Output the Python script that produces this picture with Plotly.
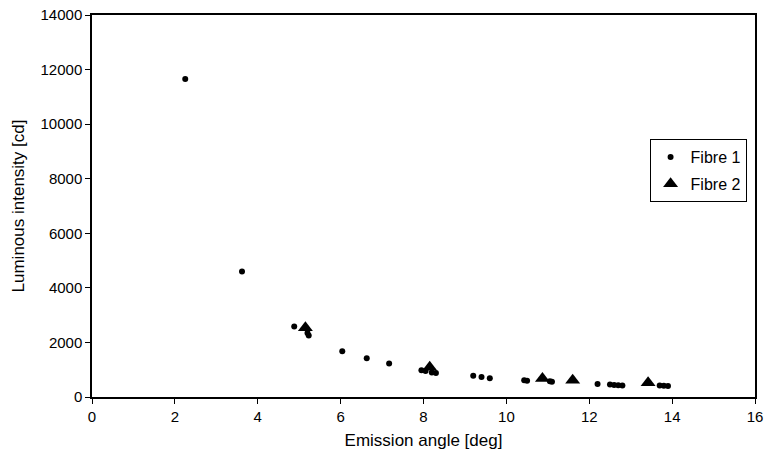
import plotly.graph_objects as go

fibre1_angle = [2.25, 3.62, 4.88, 5.2, 5.23, 6.04, 6.63, 7.17, 7.95, 8.05, 8.2, 8.3,
                9.2, 9.4, 9.6, 10.43, 10.5, 11.05, 11.1, 12.2, 12.5, 12.6, 12.7, 12.8,
                13.7, 13.8, 13.9]
fibre1_intensity = [11650, 4600, 2580, 2350, 2250, 1680, 1420, 1230, 980, 950, 900, 880,
                    780, 730, 690, 610, 600, 580, 560, 480, 460, 440, 430, 420,
                    420, 410, 400]

fibre2_angle = [5.15, 8.15, 10.87, 11.6, 13.42]
fibre2_intensity = [2540, 1090, 680, 610, 520]

x_ticks = [0, 2, 4, 6, 8, 10, 12, 14, 16]
x_labels = ["0", "2", "4", "6", "8", "10", "12", "14", "16"]
y_ticks = [0, 2000, 4000, 6000, 8000, 10000, 12000, 14000]
y_labels = ["0", "2000", "4000", "6000", "8000", "10000", "12000", "14000"]

fig = go.Figure()
fig.add_trace(go.Scatter(x=fibre1_angle, y=fibre1_intensity, mode="markers", name="Fibre 1",
                         legendgroup="f1",
                         marker=dict(symbol="circle", size=6, color="black")))
fig.add_trace(go.Scatter(x=fibre2_angle, y=fibre2_intensity, mode="markers", name="Fibre 2",
                         legendgroup="f2",
                         marker=dict(symbol="triangle-up", size=13, color="black")))

font = "Liberation Sans, Arial, sans-serif"
fig.update_layout(
    width=764, height=457,
    margin=dict(l=92, r=9, t=15, b=60, autoexpand=False),
    paper_bgcolor="white", plot_bgcolor="white",
    font=dict(family=font, size=14, color="black"),
    showlegend=True,
    legend=dict(x=0.841, y=0.675, xanchor="left", yanchor="top",
                bordercolor="black", borderwidth=1, bgcolor="white",
                font=dict(size=16), itemsizing="trace", itemwidth=30,
                tracegroupgap=3),
    xaxis=dict(range=[0, 16], tickvals=x_ticks, ticktext=x_labels, showgrid=False,
               zeroline=False, automargin=False, tickfont=dict(size=15),
               showline=True, linecolor="black", linewidth=1.5, mirror=True,
               ticks="outside", ticklen=5, tickcolor="black",
               title=dict(text="Emission angle [deg]", standoff=10)),
    yaxis=dict(range=[0, 14000], tickvals=y_ticks, ticktext=y_labels, showgrid=False,
               zeroline=False, automargin=False, tickfont=dict(size=15),
               showline=True, linecolor="black", linewidth=1.5, mirror=True,
               ticks="outside", ticklen=5, tickcolor="black",
               title=dict(text="Luminous intensity [cd]", standoff=12)),
)
fig.write_html(
    "out.html",
    config={"displayModeBar": False},
    post_script="document.body.style.margin='0';document.body.style.overflow='hidden';",
)
